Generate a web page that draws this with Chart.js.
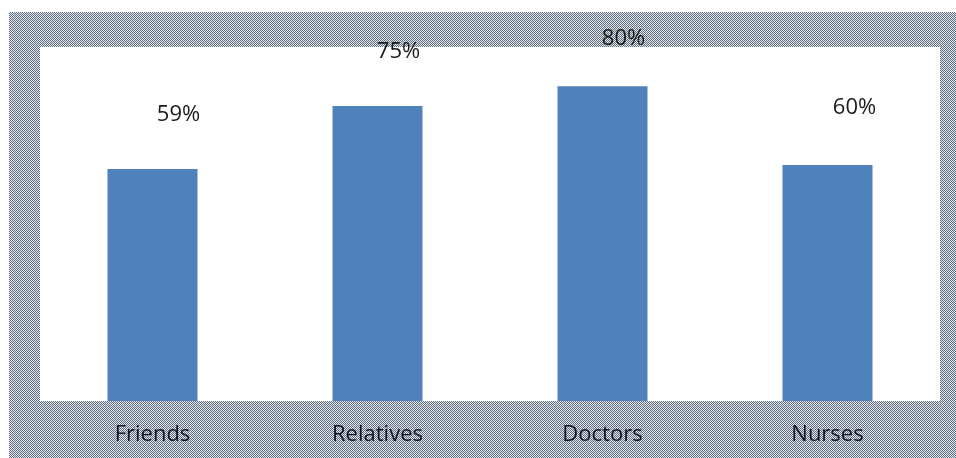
<!DOCTYPE html>
<html>
<head>
<meta charset="utf-8">
<script src="https://cdn.jsdelivr.net/npm/chart.js@4/dist/chart.umd.min.js"></script>
<style>
  html, body { margin: 0; padding: 0; background: #ffffff; }
  #wrap { width: 956px; height: 458px; position: relative; }
</style>
</head>
<body>
<div id="wrap"><canvas id="c" width="956" height="458"></canvas></div>
<script>
const categories = ["Friends", "Relatives", "Doctors", "Nurses"];
const shares = [0.59, 0.75, 0.80, 0.60];
const valueLabels = ["59%", "75%", "80%", "60%"];

// checkerboard pattern for the chart frame
function makePattern(ctx) {
  const p = document.createElement('canvas');
  p.width = 2; p.height = 2;
  const pc = p.getContext('2d');
  pc.fillStyle = '#e2e6eb'; pc.fillRect(0, 0, 2, 2);
  pc.fillStyle = '#626f80'; pc.fillRect(0, 0, 1, 1); pc.fillRect(1, 1, 1, 1);
  return ctx.createPattern(p, 'repeat');
}

const framePlugin = {
  id: 'frame',
  beforeDraw(chart) {
    const ctx = chart.ctx;
    const a = chart.chartArea;
    ctx.save();
    ctx.fillStyle = '#ffffff';
    ctx.fillRect(0, 0, chart.width, chart.height);
    ctx.fillStyle = makePattern(ctx);
    ctx.fillRect(9, 12, chart.width - 9, chart.height - 12);
    ctx.fillStyle = '#ffffff';
    ctx.fillRect(a.left, a.top, a.right - a.left, a.bottom - a.top);
    ctx.restore();
  }
};

const valueLabelPlugin = {
  id: 'valueLabels',
  afterDatasetsDraw(chart, args, opts) {
    const ctx = chart.ctx;
    const meta = chart.getDatasetMeta(0);
    ctx.save();
    ctx.font = '22px "Open Sans"';
    ctx.fillStyle = '#1a1a1a';
    ctx.textAlign = 'center';
    ctx.textBaseline = 'middle';
    meta.data.forEach((bar, i) => {
      const o = opts.offsets[i];
      ctx.fillText(valueLabels[i], bar.x + o[0], bar.y - o[1]);
    });
    ctx.restore();
  }
};

new Chart(document.getElementById('c'), {
  type: 'bar',
  data: {
    labels: categories,
    datasets: [{
      data: shares,
      backgroundColor: '#4f81bd',
      borderWidth: 0,
      barPercentage: 0.4,
      categoryPercentage: 1.0
    }]
  },
  options: {
    responsive: false,
    animation: false,
    devicePixelRatio: 1,
    layout: { padding: { left: 40, right: 16, top: 47, bottom: 0 } },
    plugins: {
      legend: { display: false },
      tooltip: { enabled: false },
      valueLabels: { offsets: [[26, 54], [21, 54], [21, 48], [27, 57]] }
    },
    scales: {
      x: {
        grid: { display: false, drawTicks: false },
        border: { display: false },
        ticks: {
          color: '#151522',
          font: { family: '"Open Sans"', size: 22 },
          padding: 21,
          maxRotation: 0
        },
        afterFit(scale) { scale.height = 57; }
      },
      y: {
        display: false,
        min: 0,
        max: 0.9
      }
    }
  },
  plugins: [framePlugin, valueLabelPlugin]
});
</script>
</body>
</html>
